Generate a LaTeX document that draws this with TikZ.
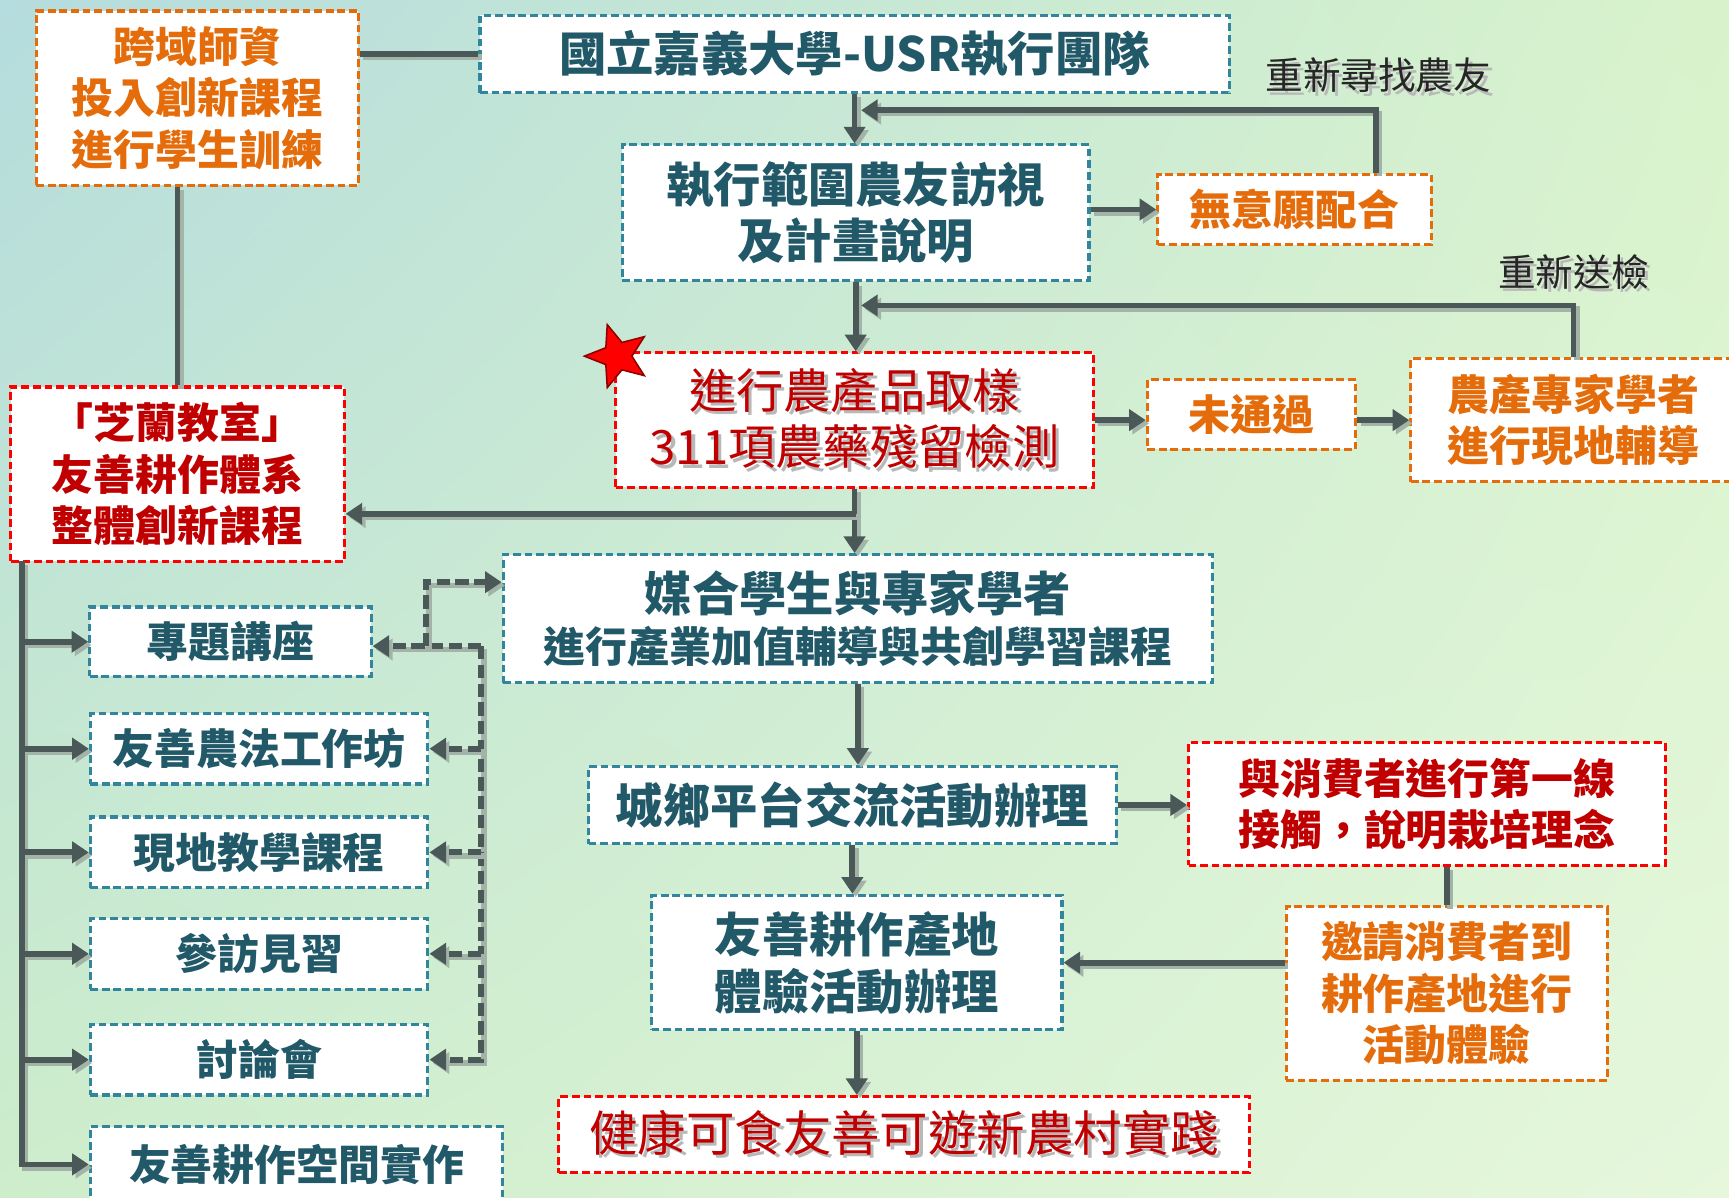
\documentclass[tikz,border=0pt]{standalone}
\usepackage{fontspec}
\setmainfont{Noto Sans CJK TC}
\usepackage{xcolor}
\usetikzlibrary{arrows.meta,shapes.geometric,shadings}

\definecolor{tealtxt}{HTML}{215968}
\definecolor{tealbdr}{HTML}{31859C}
\definecolor{orng}{HTML}{E46C0A}
\definecolor{redtxt}{HTML}{C00000}
\definecolor{redbdr}{HTML}{FF0000}
\definecolor{linec}{HTML}{4A5858}
\definecolor{shadc}{HTML}{A3B3A8}
\definecolor{bgul}{HTML}{B5DCDE}
\definecolor{bgur}{HTML}{D8F3CB}
\definecolor{bgll}{HTML}{CDEDCB}
\definecolor{bglr}{HTML}{E6F7DC}

\newcommand{\fsm}{\fontsize{10.8}{13.3}\selectfont}
\newcommand{\fbg}{\fontsize{12.2}{14.6}\selectfont}
\newcommand{\fhg}{\fontsize{12.5}{15}\selectfont}
\newcommand{\flb}{\fontsize{9.7}{12}\selectfont}
% text with a soft drop shadow
\newcommand{\shd}[1]{\leavevmode\rlap{\kern0.9pt\raisebox{-0.9pt}{\color{black!28}#1}}#1}

\begin{document}
\begin{tikzpicture}[x=0.01cm, y=-0.01cm, >={Triangle[length=0.15cm,width=0.19cm]}]
  \tikzstyle{box}=[draw, fill=white, line width=0.8pt, dash pattern=on 0.07cm off 0.035cm,
                   align=center, inner sep=0pt]
  \tikzstyle{tbox}=[box, draw=tealbdr, text=tealtxt, font=\bfseries\fsm]
  \tikzstyle{obox}=[box, draw=orng, text=orng, font=\bfseries\fsm]
  \tikzstyle{rbox}=[box, draw=redbdr, text=redtxt, font=\bfseries\fsm]
  \tikzstyle{link}=[draw=linec, line width=1.5pt,
                    preaction={draw=shadc, line width=1.5pt,
                               transform canvas={shift={(0.03cm,-0.03cm)}}}]
  \tikzstyle{dlink}=[link, dash pattern=on 0.12cm off 0.05cm]
  \tikzstyle{lab}=[text=black!85, font=\flb]

  \useasboundingbox (0,0) rectangle (1568,1086);
  \shade[upper left=bgul, upper right=bgur, lower left=bgll, lower right=bglr] (0,0) rectangle (1568,1086);

	\node[tbox, minimum width=6.79cm, minimum height=0.70cm, font=\bfseries\fbg]	(0)	at (775,49)	{國立嘉義大學-USR執行團隊};
	\node[obox, minimum width=2.92cm, minimum height=1.58cm]	(1)	at (179,89)	{跨域師資\\投入創新課程\\進行學生訓練};
	\node[tbox, minimum width=4.23cm, minimum height=1.23cm, font=\bfseries\fbg]	(2)	at (776,193)	{執行範圍農友訪視\\及計畫說明};
	\node[obox, minimum width=2.48cm, minimum height=0.64cm]	(3)	at (1174,190)	{無意願配合};
	\node[rbox, minimum width=4.33cm, minimum height=1.22cm, font=\fbg]	(4)	at (775,381)	{\shd{進行農產品取樣}\\\shd{311項農藥殘留檢測}};
	\node[obox, minimum width=1.89cm, minimum height=0.63cm]	(5)	at (1135,376)	{未通過};
	\node[obox, minimum width=2.95cm, minimum height=1.12cm]	(6)	at (1427,381)	{農產專家學者\\進行現地輔導};
	\node[rbox, minimum width=3.02cm, minimum height=1.58cm]	(7)	at (161,430)	{「芝蘭教室」\\友善耕作體系\\整體創新課程};
	\node[tbox, minimum width=6.43cm, minimum height=1.16cm]	(8)	at (778,561)	{{\fbg 媒合學生與專家學者}\\進行產業加值輔導與共創學習課程};
	\node[tbox, minimum width=4.78cm, minimum height=0.70cm, font=\bfseries\fbg]	(9)	at (773,730)	{城鄉平台交流活動辦理};
	\node[rbox, minimum width=4.32cm, minimum height=1.11cm]	(10)	at (1294,729)	{與消費者進行第一線\\接觸，說明栽培理念};
	\node[obox, minimum width=2.91cm, minimum height=1.57cm]	(11)	at (1312,901)	{邀請消費者到\\耕作產地進行\\活動體驗};
	\node[tbox, minimum width=3.72cm, minimum height=1.22cm, font=\bfseries\fbg]	(12)	at (777,873)	{友善耕作產地\\體驗活動辦理};
	\node[rbox, minimum width=6.26cm, minimum height=0.69cm, font=\fhg]	(13)	at (820,1029)	{\shd{健康可食友善可遊新農村實踐}};

	\node[tbox, minimum width=2.55cm, minimum height=0.63cm]	(14)	at (209,582)	{專題講座};
	\node[tbox, minimum width=3.06cm, minimum height=0.64cm]	(15)	at (235,679)	{友善農法工作坊};
	\node[tbox, minimum width=3.06cm, minimum height=0.64cm]	(16)	at (235,773)	{現地教學課程};
	\node[tbox, minimum width=3.06cm, minimum height=0.64cm]	(17)	at (235,865)	{參訪見習};
	\node[tbox, minimum width=3.06cm, minimum height=0.64cm]	(18)	at (235,961)	{討論會};
	\node[tbox, minimum width=3.74cm, minimum height=0.68cm]	(19)	at (269,1056)	{友善耕作空間實作};

	\node[lab]	(20)	at (1250,70)	{\shd{重新尋找農友}};
	\node[lab]	(21)	at (1427,248)	{\shd{重新送檢}};
	\node[star, star points=5, star point ratio=2.3, fill=red, draw=red!55!black,
	      minimum size=0.6cm, inner sep=0pt, rotate=18]	(22)	at (560,323)	{};

  % main flow
	\draw[link] (1.east |- 0.west) -- (0.west);
	\draw[link] (7.north |- 1.south) -- (7.north);
	\draw[link,->] (0.south) -- (0.south |- 2.north);
	\draw[link,->] (2.east |- 3.west) -- (3.west);
	\coordinate (a1) at (781,100);
	\draw[link,->] ([xshift=0.74cm]3.north) |- (a1);
	\draw[link,->] (2.south) -- (2.south |- 4.north);
	\coordinate (a2) at (781,277);
	\draw[link,->] (6.north) |- (a2);
	\draw[link,->] (4.east) -- (4.east -| 5.west);
	\draw[link,->] (4.east -| 5.east) -- (4.east -| 6.west);
	\draw[link,->] (4.south) -- (4.south |- 8.north);
	\coordinate (a3) at (776,466);
	\draw[link,->] (a3) -- (a3 -| 7.east);
	\draw[link,->] (8.south) -- (8.south |- 9.north);
	\draw[link,->] (9.east) -- (9.east -| 10.west);
	\draw[link] (11.north |- 10.south) -- (11.north);
	\draw[link,->] (11.west |- 12.east) -- (12.east);
	\draw[link,->] (9.south) -- (9.south |- 12.north);
	\draw[link,->] (12.south) -- (12.south |- 13.north);

  % course branches
	\coordinate (b0) at (20,509);
	\draw[link,->] (b0) |- (19.west);
	\foreach \n in {14,...,18}
	  \draw[link,->] (b0 |- \n.west) -- (\n.west);
	\coordinate (d0) at (436,586);
	\coordinate (d1) at (386,586);
	\draw[dlink,->] (d0) -- (14.east |- d0);
	\draw[dlink,->] (d0) |- (18.east);
	\foreach \n in {15,16,17}
	  \draw[dlink,->] (d0 |- \n.east) -- (\n.east);
	\draw[dlink,->] (d1) |- ([yshift=0.33cm]8.west);

\end{tikzpicture}
\end{document}
